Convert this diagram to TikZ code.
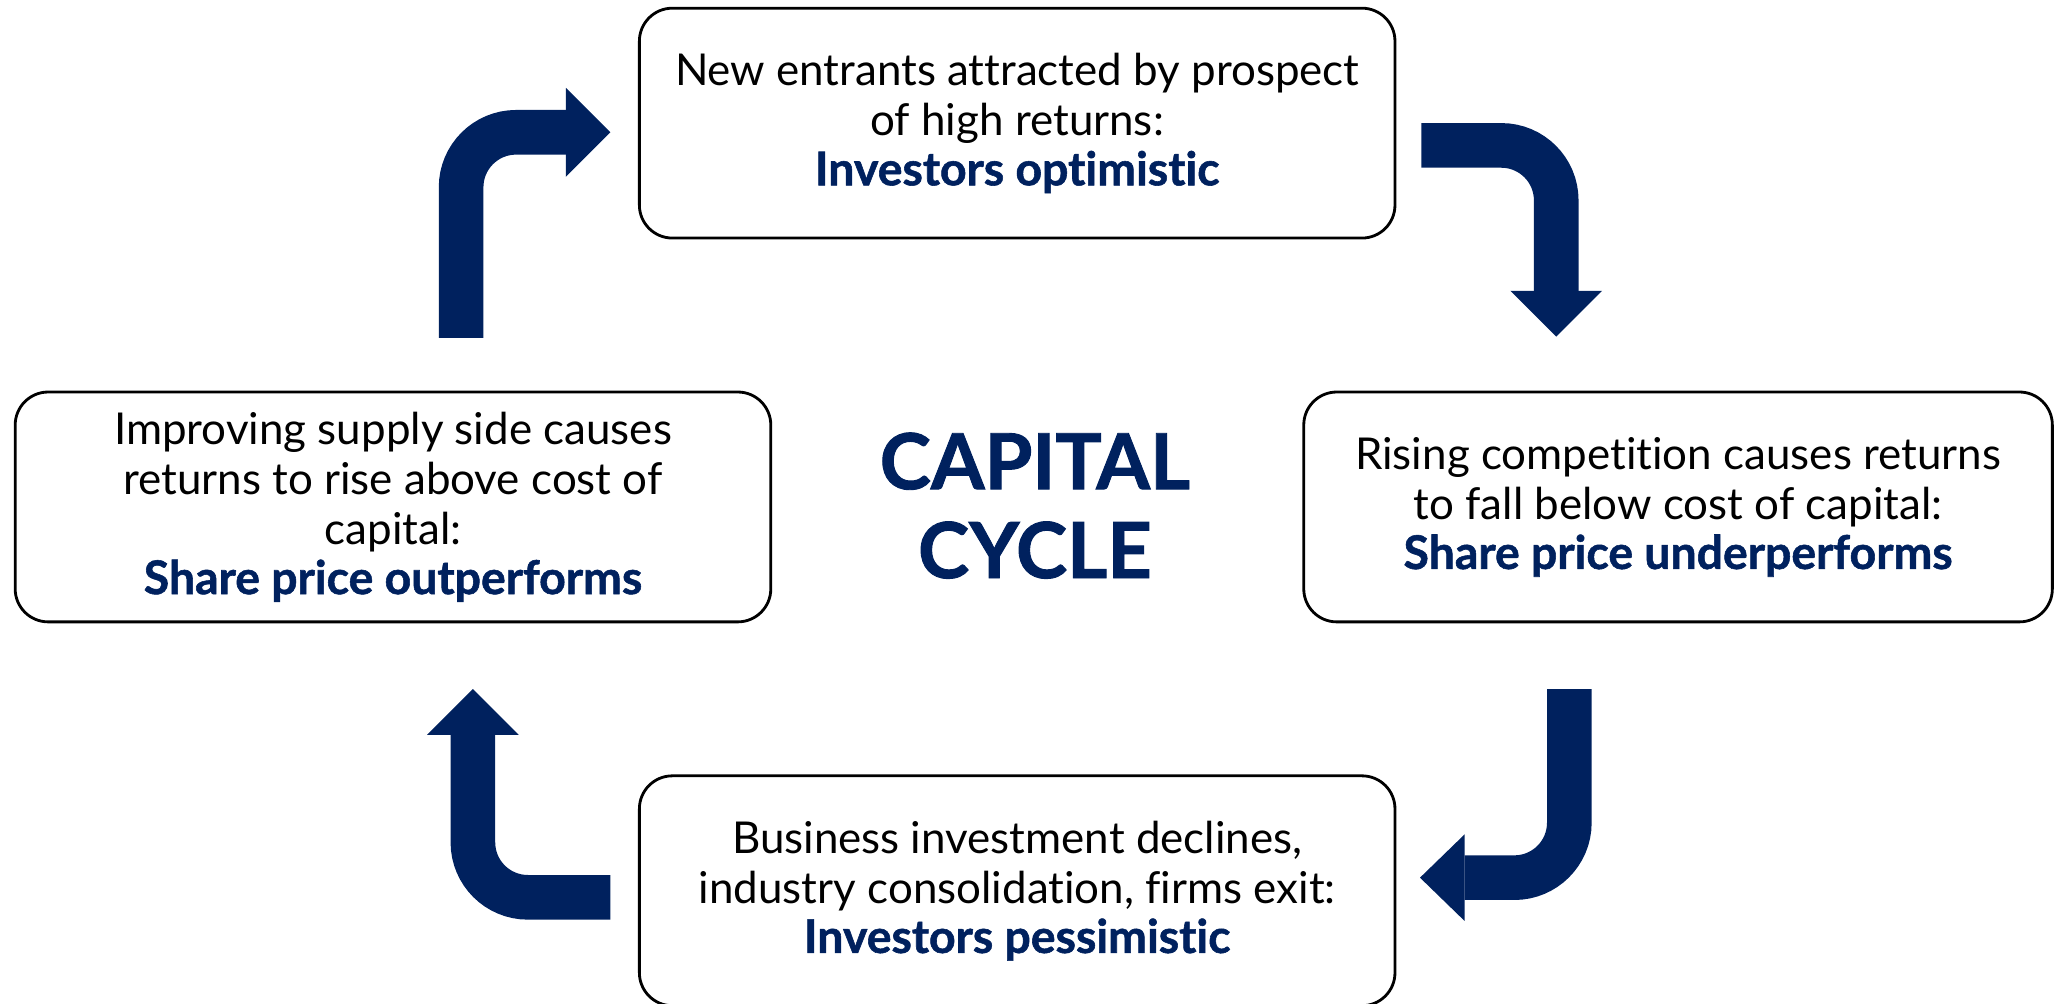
\documentclass[tikz,border=0pt]{standalone}
\usepackage{fontspec}
\setmainfont{Lato}[Ligatures=CommonOff]
\newfontfamily\heavyfont{Lato}[Ligatures=CommonOff, BoldFeatures={FakeBold=1.2}]
\usepackage{xcolor}
\usetikzlibrary{positioning}

\definecolor{cyclenavy}{RGB}{0,33,94}

\tikzset{
  cyclebox/.style={draw=black, line width=0.8pt, rounded corners=0.33cm,
    minimum width=7.56cm, minimum height=2.3cm, inner sep=0pt,
    align=center, font=\fontsize{12.5}{14.2}\selectfont},
  cyclearrow/.style={draw=cyclenavy, line width=12.7pt, rounded corners=0.55cm},
  cyclehead/.style={fill=cyclenavy}
}

\newcommand{\navytext}[1]{\textcolor{cyclenavy}{\fontsize{13.2}{14.2}\selectfont\heavyfont\bfseries #1}}

\begin{document}
\begin{tikzpicture}[x=0.0131cm, y=-0.0131cm]

\useasboundingbox (0,0) rectangle (1568,766);

% boxes
\node[cyclebox] (entrants) at (776.5,94)
{New entrants attracted by prospect\\of high returns:\\\navytext{Investors optimistic}};

\node[cyclebox] (competition) at (1281,387) [minimum width=7.49cm]
{Rising competition causes returns\\to fall below cost of capital:\\\navytext{Share price underperforms}};

\node[cyclebox] (decline) at (776.5,680)
{Business investment declines,\\industry consolidation, firms exit:\\\navytext{Investors pessimistic}};

\node[cyclebox] (supply) at (300,387)
{Improving supply side causes\\returns to rise above cost of\\capital:\\\navytext{Share price outperforms}};

\node[text=cyclenavy, align=center, font=\fontsize{22}{25.3}\selectfont\heavyfont\bfseries] (title) at (790,386)
{CAPITAL\\CYCLE};


% arrows
{
\draw[cyclearrow] (352,258)--(352,101)--(432,101);
\fill[cyclehead] (432,67)--(466,101)--(432,135)--cycle;

\draw[cyclearrow] (1085,111)--(1188,111)--(1188,222);
\fill[cyclehead] (1153,222)--(1188,257)--(1223,222)--cycle;

\draw[cyclearrow] (1198,526)--(1198,670)--(1118,670);
\fill[cyclehead] (1118,637)--(1084,670)--(1118,703)--cycle;

\draw[cyclearrow] (466,685)--(361,685)--(361,561);
\fill[cyclehead] (326,561)--(361,526)--(396,561)--cycle;
}

\end{tikzpicture}
\end{document}
